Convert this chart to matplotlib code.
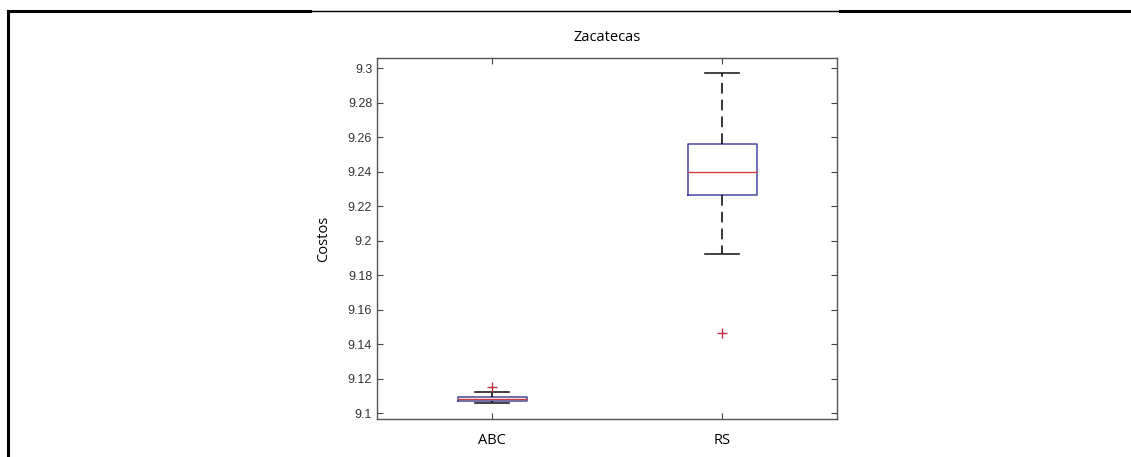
import numpy as np
import matplotlib
matplotlib.use("Agg")
import matplotlib.pyplot as plt
from matplotlib.lines import Line2D

# Estadisticas (Zacatecas)
grupos = ["ABC", "RS"]
q1 = [9.1072, 9.2266]
mediana = [9.1085, 9.2397]
q3 = [9.1097, 9.2563]
bigote_inf = [9.1062, 9.1922]
bigote_sup = [9.1126, 9.2971]
atipicos = [[9.1151], [9.1467]]
yticks = [9.1, 9.12, 9.14, 9.16, 9.18, 9.2, 9.22, 9.24, 9.26, 9.28, 9.3]

stats = []
for i in range(len(grupos)):
    stats.append(dict(label=grupos[i], med=mediana[i], q1=q1[i], q3=q3[i],
                      whislo=bigote_inf[i], whishi=bigote_sup[i],
                      fliers=atipicos[i]))

fig = plt.figure(figsize=(11.31, 4.57), dpi=100)
ax = fig.add_axes([377 / 1131, 1 - 419 / 457, 460 / 1131, 361 / 457])

azul = "#4646a0"
ax.bxp(stats, positions=[1, 2], widths=0.3, capwidths=0.15,
       boxprops=dict(color=azul, linewidth=1.1),
       medianprops=dict(color="#d04040", linewidth=1.0),
       whiskerprops=dict(color="black", linestyle=(0, (7, 4)), linewidth=1.1),
       capprops=dict(color="#222222", linewidth=1.2),
       flierprops=dict(marker="+", markeredgecolor="#c03040", markersize=7,
                       markeredgewidth=1.0, linestyle="none"))

ax.set_xlim(0.5, 2.5)
ax.set_ylim(9.0968, 9.3058)
ax.set_yticks(yticks)
ax.set_yticklabels(["%g" % t for t in yticks], family="Liberation Sans",
                   fontsize=9, color="#333333")
ax.set_xticks([1, 2])
ax.set_xticklabels(grupos, family="Open Sans", fontsize=10.5)
ax.tick_params(direction="in", top=True, right=True, length=4, width=0.8,
               color="#444444")
ax.tick_params(axis="x", pad=10)
for s in ax.spines.values():
    s.set_color("#555555")
    s.set_linewidth(1.0)

ax.set_title("Zacatecas", family="Open Sans", fontsize=10.5, pad=12)
ax.set_ylabel("Costos", family="Open Sans", fontsize=10.5, labelpad=12)

# marco de la pagina
W, H = 1131, 457
fig.add_artist(Line2D([8 / W, 8 / W], [0, 1 - 11 / H], color="black", linewidth=2.2))
fig.add_artist(Line2D([8 / W, 310 / W], [1 - 11 / H] * 2, color="black", linewidth=2.2))
fig.add_artist(Line2D([310 / W, 840 / W], [1 - 11 / H] * 2, color="black", linewidth=1.0))
fig.add_artist(Line2D([840 / W, 1], [1 - 11 / H] * 2, color="black", linewidth=2.2))

fig.savefig("out.png", dpi=100)
